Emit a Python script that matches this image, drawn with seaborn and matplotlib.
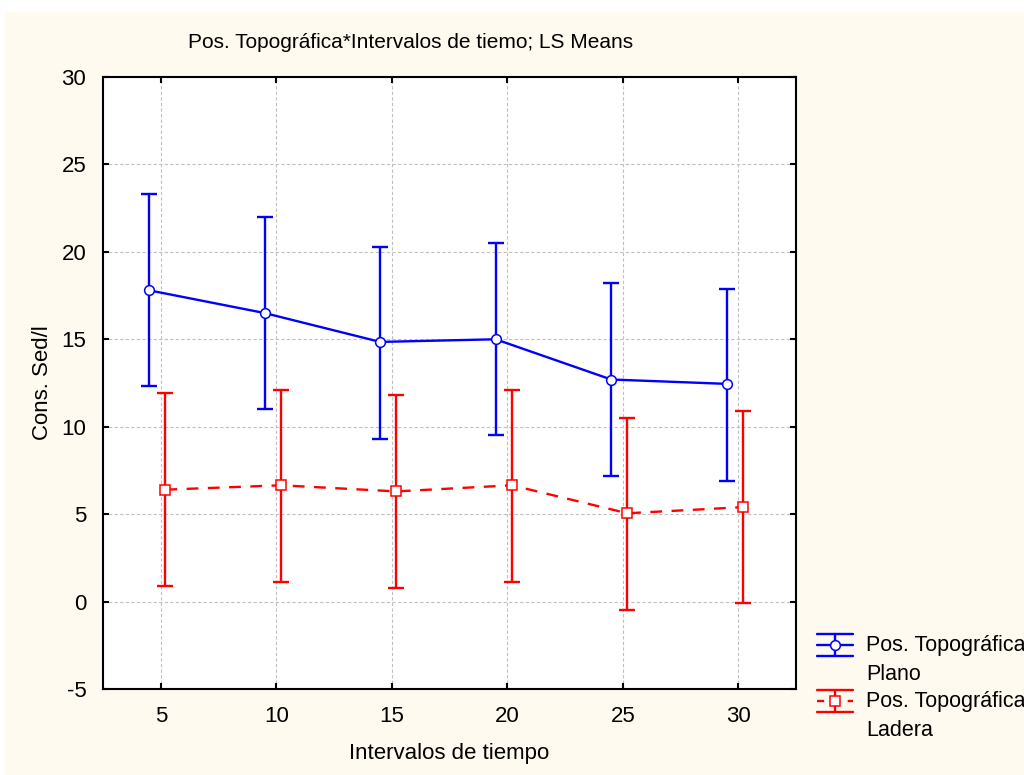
import numpy as np
import pandas as pd
import seaborn as sns
import matplotlib.pyplot as plt
from matplotlib.lines import Line2D
from matplotlib.patches import Rectangle

# Datos (LS Means con intervalos de confianza)
intervalos = ['5', '10', '15', '20', '25', '30']
grupos = ['Plano', 'Ladera']
plano_media = [17.8, 16.5, 14.85, 15.0, 12.7, 12.45]
plano_sup = [23.3, 22.0, 20.3, 20.5, 18.2, 17.9]
plano_inf = [12.3, 11.0, 9.3, 9.5, 7.2, 6.9]
ladera_media = [6.4, 6.65, 6.3, 6.65, 5.05, 5.4]
ladera_sup = [11.9, 12.1, 11.8, 12.1, 10.5, 10.9]
ladera_inf = [0.9, 1.1, 0.8, 1.1, -0.5, -0.1]

colores = {'Plano': '#0000ff', 'Ladera': '#ff0000'}
desplaz = {'Plano': -0.1, 'Ladera': 0.04}
marcas = {'Plano': 'o', 'Ladera': 's'}

idx = np.arange(len(intervalos))
df = pd.concat([
    pd.DataFrame({'grupo': 'Plano', 'pos': idx + desplaz['Plano'], 'media': plano_media,
                  'sup': plano_sup, 'inf': plano_inf}),
    pd.DataFrame({'grupo': 'Ladera', 'pos': idx + desplaz['Ladera'], 'media': ladera_media,
                  'sup': ladera_sup, 'inf': ladera_inf}),
], ignore_index=True)

sns.set_style('white')
plt.rcParams['font.family'] = ['Liberation Sans', 'DejaVu Sans']
plt.rcParams['axes.unicode_minus'] = False
plt.rcParams['text.color'] = 'black'
plt.rcParams['axes.labelcolor'] = 'black'

W, H = 1024, 775
fig = plt.figure(figsize=(W / 100, H / 100), dpi=100, facecolor='white')
fig.patches.append(Rectangle((5 / W, 0), 1, 1 - 12 / H, transform=fig.transFigure,
                             facecolor='#fffaf0', edgecolor='none', zorder=-10))
ax = fig.add_axes([103 / W, 1 - 689 / H, 693 / W, 612 / H])
ax.set_facecolor('white')

for g in grupos:
    d = df[df['grupo'] == g]
    ax.errorbar(d['pos'], d['media'], yerr=[d['media'] - d['inf'], d['sup'] - d['media']],
                fmt='none', ecolor=colores[g], elinewidth=1.7, capsize=5.5, capthick=1.7, zorder=3)

n_antes = len(ax.lines)
sns.lineplot(data=df, x='pos', y='media', hue='grupo', style='grupo', palette=colores,
             markers=marcas, dashes={'Plano': '', 'Ladera': (5, 4)},
             markersize=7, linewidth=1.7, legend=False, ax=ax, zorder=4)
for ln in ax.lines[n_antes:]:
    ln.set_markerfacecolor('white')
    ln.set_markeredgecolor(ln.get_color())
    ln.set_markeredgewidth(1.1)

ax.set_xlim(-0.5, len(intervalos) - 0.5)
ax.set_ylim(-5, 30)
ax.set_xticks(idx)
ax.set_xticklabels(intervalos)
ax.set_yticks(np.arange(-5, 31, 5))
ax.grid(True, color='#c0c0c0', linestyle=(0, (3, 2)), linewidth=0.8)
ax.set_axisbelow(True)
for s in ax.spines.values():
    s.set_color('black')
    s.set_linewidth(1.5)
ax.tick_params(direction='in', length=4, width=1.5, colors='black', labelsize=16,
               top=True, right=True, left=True, bottom=True, labeltop=False, labelright=False)
ax.tick_params(axis='x', pad=12)
ax.tick_params(axis='y', pad=12)
ax.set_xlabel('Intervalos de tiempo', fontsize=16, labelpad=12)
ax.set_ylabel('Cons. Sed/l', fontsize=16, labelpad=6)

fig.text(411 / W, 1 - 42 / H, 'Pos. Topográfica*Intervalos de tiemo; LS Means',
         ha='center', va='center', fontsize=15)


# leyenda dibujada a mano (símbolo de barra de error como en el original)
def fx(px):
    return px / W


def fy(py):
    return 1 - py / H


leyenda = [('Plano', 645, '-'), ('Ladera', 701, (0, (3, 3.5)))]
for g, yc, estilo in leyenda:
    c = colores[g]
    for dy in (-11, 11):
        fig.add_artist(Line2D([fx(817), fx(853)], [fy(yc + dy)] * 2, color=c, lw=1.7))
    fig.add_artist(Line2D([fx(835), fx(835)], [fy(yc - 11), fy(yc + 11)], color=c, lw=1.7))
    fig.add_artist(Line2D([fx(817), fx(853)], [fy(yc)] * 2, color=c, lw=1.7, ls=estilo))
    fig.add_artist(Line2D([fx(835)], [fy(yc)], color=c, marker=marcas[g], ms=7,
                          mfc='white', mec=c, mew=1.1, ls='none'))
    fig.text(fx(866), fy(yc), 'Pos. Topográfica', ha='left', va='center', fontsize=15.5)
    fig.text(fx(866), fy(yc + 29), g, ha='left', va='center', fontsize=15.5)

fig.savefig('out.png', dpi=100, facecolor=fig.get_facecolor())
